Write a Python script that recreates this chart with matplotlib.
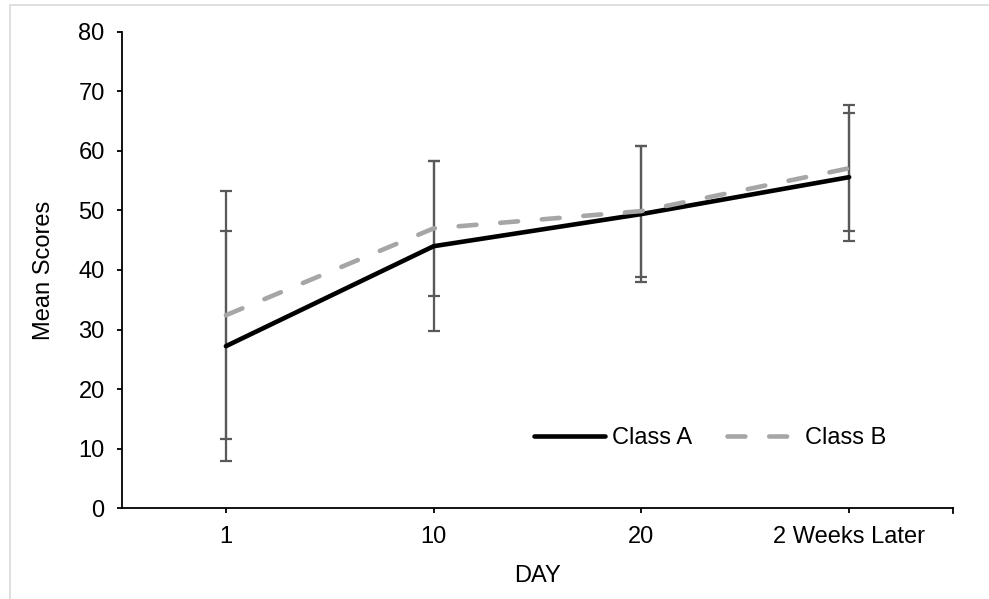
import matplotlib.pyplot as plt
from matplotlib.patches import Rectangle

plt.rcParams['font.family'] = ['Liberation Sans', 'DejaVu Sans']

days = ['1', '10', '20', '2 Weeks Later']
class_a = [27.2, 44.0, 49.4, 55.6]
class_a_err = [19.3, 14.3, 11.5, 10.8]
class_b = [32.4, 47.0, 49.9, 57.1]
class_b_err = [20.8, 11.3, 11.0, 10.6]

fs = 17

fig = plt.figure(figsize=(9.89, 5.99), dpi=100)
ax = fig.add_axes([0.1234, 0.1519, 0.8402, 0.7947])

# light chart border (Excel style)
fig.patches.append(Rectangle((10 / 989, -0.1), 1.2, 1 - 5 / 599 + 0.1,
                             transform=fig.transFigure, fill=False,
                             edgecolor='#d9d9d9', linewidth=1.2, zorder=0))

x = list(range(len(days)))

err_kw = dict(fmt='none', ecolor='#595959', elinewidth=1.6, capsize=4.3, capthick=1.6, zorder=2)
ax.errorbar(x, class_a, yerr=class_a_err, **err_kw)
ax.errorbar(x, class_b, yerr=class_b_err, **err_kw)

ax.plot(x, class_a, color='black', linewidth=3.3, solid_capstyle='round',
        label='Class A', zorder=3)
ax.plot(x, class_b, color='#a6a6a6', linewidth=3.3, dashes=(3.9, 5.2),
        dash_capstyle='round', label='Class B', zorder=3)

ax.set_xlim(-0.5, 3.5)
ax.set_ylim(0, 80)
ax.set_yticks(range(0, 81, 10))
ax.set_xticks(x)
ax.set_xticklabels(days)

for s in ['top', 'right']:
    ax.spines[s].set_visible(False)
for s in ['left', 'bottom']:
    ax.spines[s].set_color('black')
    ax.spines[s].set_linewidth(1.3)

ax.tick_params(axis='both', labelsize=fs, width=1.3, length=3.5, color='black')
ax.tick_params(axis='x', pad=9.5)
ax.tick_params(axis='y', pad=9)
# end tick at right side of x axis
ax.plot([3.5, 3.5], [0, -0.011], transform=ax.get_xaxis_transform(),
        color='black', linewidth=1.3, clip_on=False)

ax.set_xlabel('DAY', fontsize=fs, labelpad=12)
ax.set_ylabel('Mean Scores', fontsize=fs, labelpad=17)

ax.legend(loc='center', bbox_to_anchor=(0.7076, 0.147), ncol=2, frameon=False,
          fontsize=fs, handlelength=3.0, handletextpad=0.3, columnspacing=1.45)

fig.savefig('out.png', dpi=100)
